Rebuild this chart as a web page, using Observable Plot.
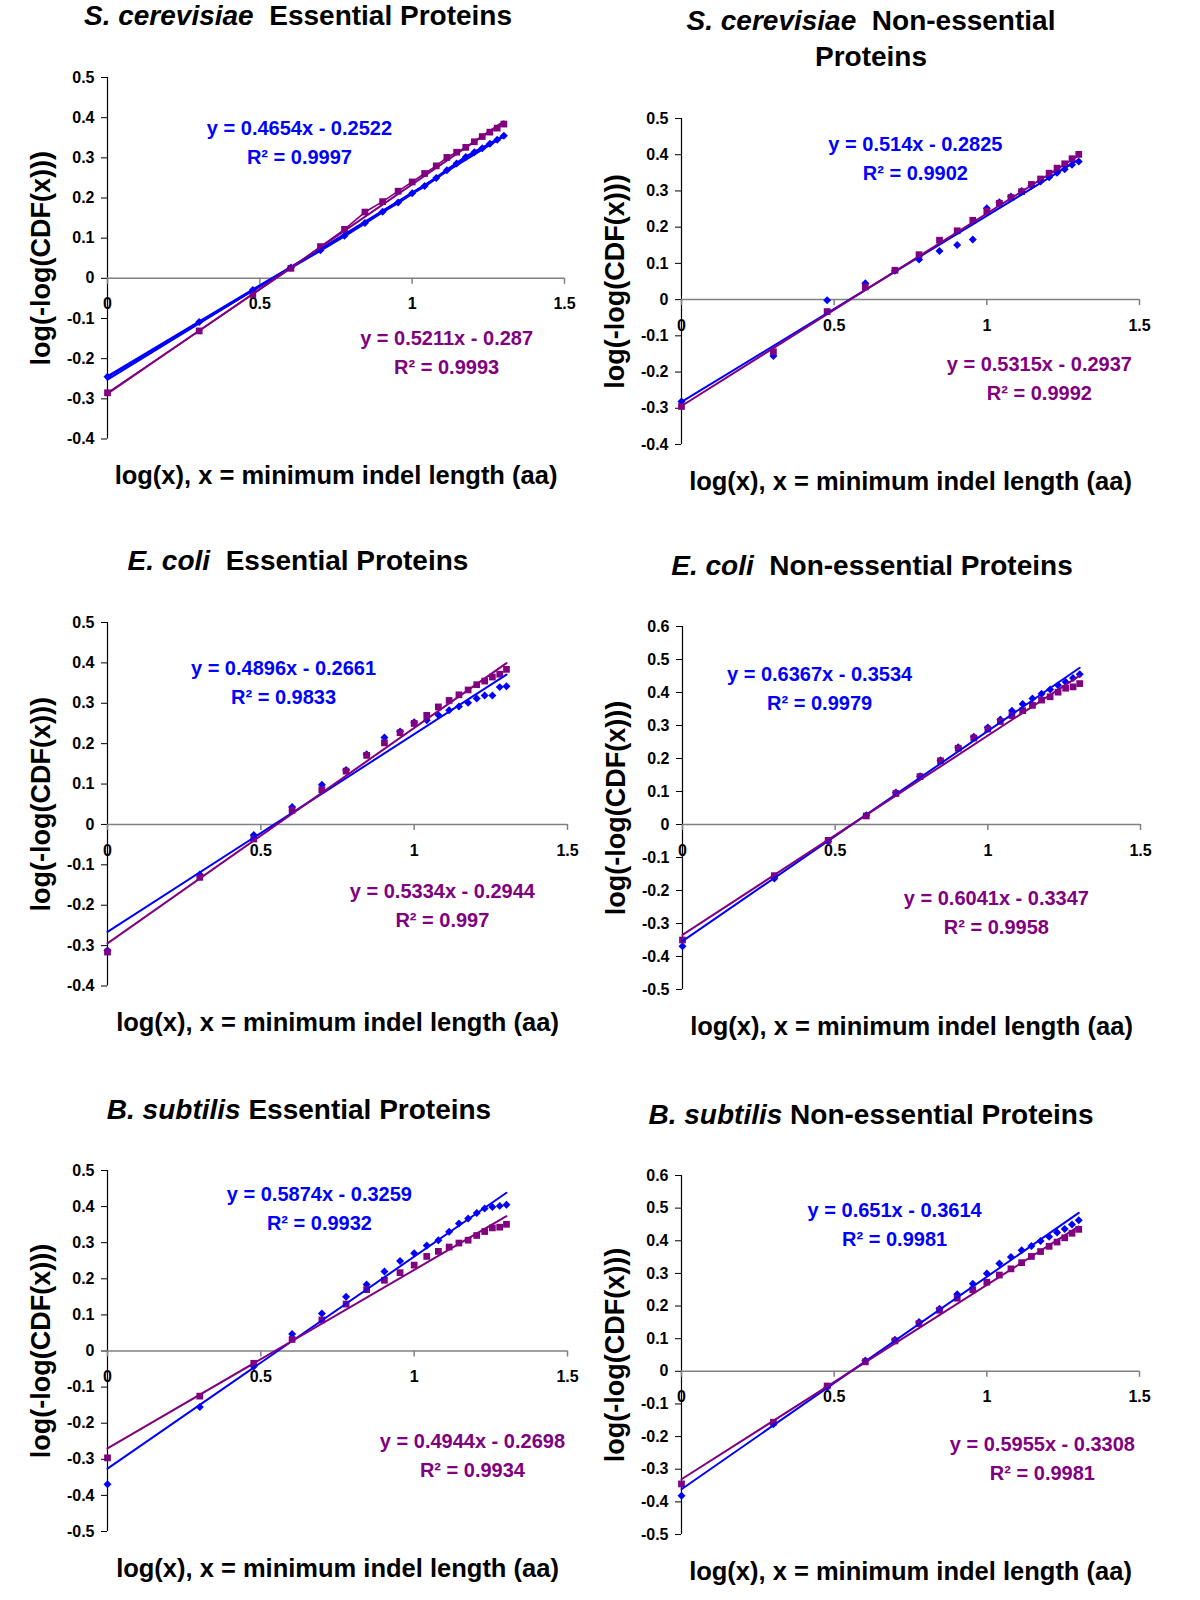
<!DOCTYPE html>
<html>
<head>
<meta charset="utf-8">
<script src="https://cdn.jsdelivr.net/npm/d3@7"></script>
<script src="https://cdn.jsdelivr.net/npm/@observablehq/plot@0.6"></script>
<style>
  html, body { margin: 0; padding: 0; background: #fff; }
  body { width: 1200px; height: 1600px; position: relative; overflow: hidden;
         font-family: "Liberation Sans", Arial, sans-serif; }
  .title { position: absolute; font-weight: bold; font-size: 28px; line-height: 36px;
           text-align: center; white-space: nowrap; transform: translateX(-50%); color: #000; }
  .title i { font-style: italic; }
  .panel { position: absolute; }
</style>
</head>
<body>
<script>
// ---- shared x values: log10 of minimum indel length 1..20 ----
const logX = [0, 0.301, 0.477, 0.602, 0.699, 0.778, 0.845, 0.903, 0.954, 1.000,
              1.041, 1.079, 1.114, 1.146, 1.176, 1.204, 1.230, 1.255, 1.279, 1.301];
const xTicks = [0, 0.5, 1, 1.5];

// ---- S. cerevisiae essential ----
const sceEssBlue   = [-0.245, -0.109, -0.029, 0.027, 0.070, 0.106, 0.138, 0.166, 0.189, 0.212,
                      0.230, 0.250, 0.269, 0.286, 0.302, 0.314, 0.324, 0.335, 0.345, 0.355];
const sceEssPurple = [-0.285, -0.131, -0.040, 0.025, 0.079, 0.122, 0.165, 0.191, 0.217, 0.240,
                      0.261, 0.280, 0.301, 0.314, 0.326, 0.340, 0.353, 0.364, 0.374, 0.384];
// ---- S. cerevisiae non-essential ----
const sceNonBlue   = [-0.281, -0.156, -0.002, 0.045, 0.080, 0.111, 0.134, 0.151, 0.166, 0.252,
                      0.269, 0.285, 0.300, 0.314, 0.326, 0.338, 0.350, 0.360, 0.372, 0.381];
const sceNonPurple = [-0.295, -0.144, -0.033, 0.035, 0.081, 0.124, 0.164, 0.190, 0.219, 0.244,
                      0.266, 0.282, 0.298, 0.318, 0.333, 0.349, 0.363, 0.375, 0.389, 0.401];
// ---- E. coli essential ----
const ecoEssBlue   = [-0.312, -0.124, -0.026, 0.043, 0.098, 0.135, 0.174, 0.215, 0.230, 0.253,
                      0.258, 0.271, 0.283, 0.292, 0.301, 0.312, 0.319, 0.319, 0.340, 0.342];
const ecoEssPurple = [-0.316, -0.131, -0.036, 0.035, 0.086, 0.132, 0.171, 0.202, 0.227, 0.250,
                      0.270, 0.291, 0.307, 0.321, 0.333, 0.346, 0.355, 0.365, 0.372, 0.384];
// ---- E. coli non-essential ----
const ecoNonBlue   = [-0.369, -0.164, -0.051, 0.028, 0.097, 0.146, 0.195, 0.234, 0.266, 0.294,
                      0.318, 0.345, 0.365, 0.382, 0.396, 0.409, 0.422, 0.432, 0.444, 0.455];
const ecoNonPurple = [-0.350, -0.155, -0.048, 0.026, 0.094, 0.145, 0.193, 0.231, 0.262, 0.289,
                      0.312, 0.330, 0.345, 0.361, 0.377, 0.387, 0.401, 0.413, 0.417, 0.427];
// ---- B. subtilis essential ----
const bsuEssBlue   = [-0.369, -0.155, -0.043, 0.047, 0.104, 0.150, 0.184, 0.220, 0.249, 0.271,
                      0.292, 0.307, 0.330, 0.353, 0.367, 0.382, 0.395, 0.399, 0.402, 0.405];
const bsuEssPurple = [-0.296, -0.125, -0.034, 0.032, 0.086, 0.130, 0.170, 0.196, 0.217, 0.238,
                      0.262, 0.276, 0.288, 0.299, 0.307, 0.320, 0.331, 0.341, 0.343, 0.351];
// ---- B. subtilis non-essential ----
const bsuNonBlue   = [-0.381, -0.162, -0.049, 0.033, 0.097, 0.151, 0.192, 0.236, 0.268, 0.300,
                      0.330, 0.350, 0.371, 0.384, 0.399, 0.412, 0.425, 0.436, 0.450, 0.463];
const bsuNonPurple = [-0.345, -0.156, -0.045, 0.029, 0.093, 0.146, 0.187, 0.224, 0.250, 0.273,
                      0.295, 0.314, 0.333, 0.352, 0.367, 0.383, 0.396, 0.409, 0.423, 0.435];

// ---- fitted trend lines (slope, intercept) and their labels ----
const blueSlopes       = [0.4654, 0.514, 0.4896, 0.6367, 0.5874, 0.651];
const blueIntercepts   = [-0.2522, -0.2825, -0.2661, -0.3534, -0.3259, -0.3614];
const purpleSlopes     = [0.5211, 0.5315, 0.5334, 0.6041, 0.4944, 0.5955];
const purpleIntercepts = [-0.287, -0.2937, -0.2944, -0.3347, -0.2698, -0.3308];
const blueEqs   = ["y = 0.4654x - 0.2522", "y = 0.514x - 0.2825", "y = 0.4896x - 0.2661",
                   "y = 0.6367x - 0.3534", "y = 0.5874x - 0.3259", "y = 0.651x - 0.3614"];
const blueR2    = ["R² = 0.9997", "R² = 0.9902", "R² = 0.9833", "R² = 0.9979", "R² = 0.9932", "R² = 0.9981"];
const purpleEqs = ["y = 0.5211x - 0.287", "y = 0.5315x - 0.2937", "y = 0.5334x - 0.2944",
                   "y = 0.6041x - 0.3347", "y = 0.4944x - 0.2698", "y = 0.5955x - 0.3308"];
const purpleR2  = ["R² = 0.9993", "R² = 0.9992", "R² = 0.997", "R² = 0.9958", "R² = 0.9934", "R² = 0.9981"];

// ---- titles ----
const species = ["S. cerevisiae", "S. cerevisiae", "E. coli", "E. coli", "B. subtilis", "B. subtilis"];
const titleRest = ["Essential Proteins", "Non-essential<br>Proteins", "Essential Proteins",
                   "Non-essential Proteins", "Essential Proteins", "Non-essential Proteins"];
const xLabel = "log(x), x = minimum indel length (aa)";
const yLabel = "log(-log(CDF(x)))";

// ---- y axes ----
const yDomains = [[-0.4, 0.5], [-0.4, 0.5], [-0.4, 0.5], [-0.5, 0.6], [-0.5, 0.5], [-0.5, 0.6]];
const yTicksList = [
  [-0.4, -0.3, -0.2, -0.1, 0, 0.1, 0.2, 0.3, 0.4, 0.5],
  [-0.4, -0.3, -0.2, -0.1, 0, 0.1, 0.2, 0.3, 0.4, 0.5],
  [-0.4, -0.3, -0.2, -0.1, 0, 0.1, 0.2, 0.3, 0.4, 0.5],
  [-0.5, -0.4, -0.3, -0.2, -0.1, 0, 0.1, 0.2, 0.3, 0.4, 0.5, 0.6],
  [-0.5, -0.4, -0.3, -0.2, -0.1, 0, 0.1, 0.2, 0.3, 0.4, 0.5],
  [-0.5, -0.4, -0.3, -0.2, -0.1, 0, 0.1, 0.2, 0.3, 0.4, 0.5, 0.6]
];

const blueSeries   = [sceEssBlue, sceNonBlue, ecoEssBlue, ecoNonBlue, bsuEssBlue, bsuNonBlue];
const purpleSeries = [sceEssPurple, sceNonPurple, ecoEssPurple, ecoNonPurple, bsuEssPurple, bsuNonPurple];

// ---- layout (pixel frames of each plot area, title placement, label anchors in data units) ----
const layout = [
  {left: 107, right: 564,  top: 76.5, bottom: 438,  titleX: 298, titleTop: -2,   gap: "&nbsp; ", connected: true,
   blueAt: [0.630, 0.373], purpleAt: [1.113, -0.149]},
  {left: 681, right: 1139, top: 118,  bottom: 444,  titleX: 871, titleTop: 3,    gap: "&nbsp; ", connected: false,
   blueAt: [0.766, 0.428], purpleAt: [1.172, -0.179]},
  {left: 107, right: 567,  top: 621.5, bottom: 985, titleX: 298, titleTop: 543,  gap: "&nbsp; ", connected: false,
   blueAt: [0.574, 0.387], purpleAt: [1.092, -0.167]},
  {left: 682, right: 1140, top: 626,  bottom: 989,  titleX: 872, titleTop: 548,  gap: "&nbsp; ", connected: false,
   blueAt: [0.449, 0.453], purpleAt: [1.028, -0.224]},
  {left: 107, right: 567,  top: 1170, bottom: 1531, titleX: 299, titleTop: 1092, gap: " ", connected: false,
   blueAt: [0.691, 0.433], purpleAt: [1.190, -0.251]},
  {left: 681, right: 1139, top: 1175, bottom: 1534, titleX: 871, titleTop: 1097, gap: " ", connected: false,
   blueAt: [0.698, 0.493], purpleAt: [1.182, -0.224]}
];

const BLUE = "#0000ff";
const PURPLE = "#800080";
const FONT = '"Liberation Sans", Arial, sans-serif';
const fmtY = d => (Math.abs(d) < 1e-9 ? "0" : d.toFixed(1));
const fmtX = d => String(d);

layout.forEach((L, k) => {
  // title (HTML, above the svg)
  const t = document.createElement("div");
  t.className = "title";
  t.style.left = L.titleX + "px";
  t.style.top = L.titleTop + "px";
  t.innerHTML = `<i>${species[k]}</i>${L.gap}${titleRest[k]}`;
  document.body.appendChild(t);

  const mL = 100, mR = 40, mT = 20, mB = 70;
  const W = L.right - L.left, H = L.bottom - L.top;

  const blue = logX.map((x, i) => ({x, y: blueSeries[k][i]}));
  const purple = logX.map((x, i) => ({x, y: purpleSeries[k][i]}));
  const xEnd = logX[logX.length - 1];
  const blueFit = [0, xEnd].map(x => ({x, y: blueSlopes[k] * x + blueIntercepts[k]}));
  const purpleFit = [0, xEnd].map(x => ({x, y: purpleSlopes[k] * x + purpleIntercepts[k]}));

  const textStyle = {fontWeight: "bold", fontFamily: FONT};
  const marks = [
    // y axis
    Plot.axisY({ticks: yTicksList[k], tickFormat: fmtY, tickSize: 6, tickPadding: 7,
                label: null, fontSize: 16, fontWeight: "bold", stroke: "#000"}),
    Plot.ruleX([0], {stroke: "#000", strokeWidth: 1.2}),
    // x axis drawn through y = 0
    Plot.ruleY([0], {stroke: "#808080", strokeWidth: 1.5}),
    Plot.ruleX(xTicks, {x: d => d, y1: 0, y2: 0, insetBottom: -6, stroke: "#808080", strokeWidth: 1.5}),
    Plot.text(xTicks, {x: d => d, y: 0, text: fmtX, dy: 26, fontSize: 16, ...textStyle, fill: "#000"}),
    // axis titles
    Plot.text([yLabel], {frameAnchor: "left", textAnchor: "middle", lineAnchor: "middle", rotate: -90, dx: -66,
                         fontSize: 27, ...textStyle, fill: "#000"}),
    Plot.text([xLabel], {frameAnchor: "bottom", textAnchor: "middle", lineAnchor: "middle", dy: 37,
                         fontSize: 25.5, ...textStyle, fill: "#000"})
  ];
  if (L.connected) {
    marks.push(Plot.line(blue, {x: "x", y: "y", stroke: BLUE, strokeWidth: 3}));
    marks.push(Plot.line(purple, {x: "x", y: "y", stroke: PURPLE, strokeWidth: 1.6}));
  }
  marks.push(
    Plot.dot(blue, {x: "x", y: "y", symbol: "diamond2", r: 3.6, fill: BLUE, stroke: "none"}),
    Plot.dot(purple, {x: "x", y: "y", symbol: "square", r: 3.8, fill: PURPLE, stroke: "none"}),
    Plot.line(blueFit, {x: "x", y: "y", stroke: BLUE, strokeWidth: 2}),
    Plot.line(purpleFit, {x: "x", y: "y", stroke: PURPLE, strokeWidth: 2}),
    // regression labels
    Plot.text([blueEqs[k]], {x: () => L.blueAt[0], y: () => L.blueAt[1], fontSize: 20, ...textStyle, fill: BLUE}),
    Plot.text([blueR2[k]], {x: () => L.blueAt[0], y: () => L.blueAt[1], dy: 29, fontSize: 20, ...textStyle, fill: BLUE}),
    Plot.text([purpleEqs[k]], {x: () => L.purpleAt[0], y: () => L.purpleAt[1], fontSize: 20, ...textStyle, fill: PURPLE}),
    Plot.text([purpleR2[k]], {x: () => L.purpleAt[0], y: () => L.purpleAt[1], dy: 29, fontSize: 20, ...textStyle, fill: PURPLE})
  );

  const svg = Plot.plot({
    width: mL + W + mR,
    height: mT + H + mB,
    marginLeft: mL, marginRight: mR, marginTop: mT, marginBottom: mB,
    x: {domain: [0, 1.5], axis: null},
    y: {domain: yDomains[k], axis: null},
    style: {background: "transparent", overflow: "visible", fontFamily: FONT, color: "#000"},
    marks
  });
  svg.classList.add("panel");
  svg.style.left = (L.left - mL) + "px";
  svg.style.top = (L.top - mT) + "px";
  document.body.appendChild(svg);
});
</script>
</body>
</html>
